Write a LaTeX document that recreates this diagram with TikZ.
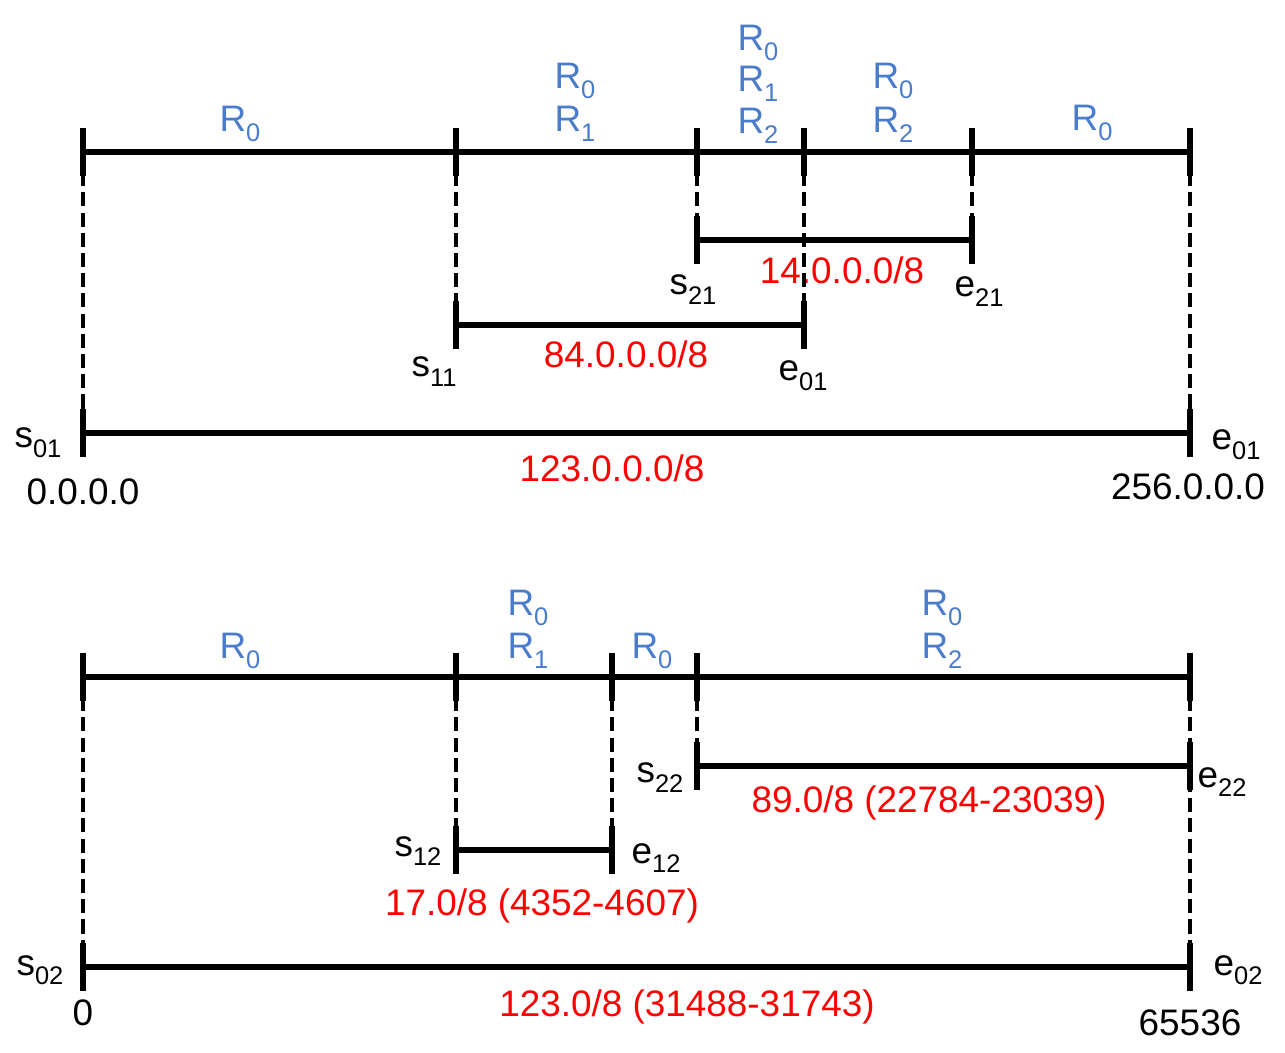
\documentclass[tikz,border=0pt]{standalone}
\usepackage{fontspec}
\setmainfont{Liberation Sans}
\definecolor{rblue}{RGB}{74,124,204}
\definecolor{rred}{RGB}{255,0,0}
\newcommand{\sbx}[1]{\raisebox{-5.5pt}{\fontsize{14.5}{14.5}\selectfont #1}}
\begin{document}
\begin{tikzpicture}[x=0.02cm,y=-0.02cm,
  seg/.style={line width=3.1pt},
  tickline/.style={line width=3.8pt},
  dashline/.style={line width=2.8pt, dash pattern=on 8pt off 3.5pt},
  lbl/.style={font=\fontsize{21}{24}\selectfont, inner sep=0pt, anchor=base},
  rlab/.style={lbl, text=rblue},
  redlab/.style={lbl, text=rred},
  tk/.pic={\draw[tickline] (0,-24) -- (0,24);}
]
\path[use as bounding box] (0,0) rectangle (1285,1053);

% ---- top diagram coordinates
\coordinate (A0) at (83,152);
\coordinate (A1) at (456,152);
\coordinate (A2) at (697,152);
\coordinate (A3) at (804,152);
\coordinate (A4) at (972,152);
\coordinate (A5) at (1190,152);
\coordinate (B1) at (697,240);
\coordinate (B2) at (972,240);
\coordinate (C1) at (456,325);
\coordinate (C2) at (804,325);
\coordinate (D1) at (83,433);
\coordinate (D2) at (1190,433);
% ---- bottom diagram coordinates
\coordinate (E0) at (83,677);
\coordinate (E1) at (456,677);
\coordinate (E2) at (612,677);
\coordinate (E3) at (697,677);
\coordinate (E4) at (1190,677);
\coordinate (F1) at (697,766);
\coordinate (F2) at (1190,766);
\coordinate (G1) at (456,850);
\coordinate (G2) at (612,850);
\coordinate (H1) at (83,967);
\coordinate (H2) at (1190,967);

% red label crossed by dashed line
\node[redlab] (n14) at (842,284) {14.0.0.0/8};

% dashed projection lines
\foreach \a/\b in {A0/D1, A1/C1, A2/B1, A3/C2, A4/B2, A5/D2, E0/H1, E1/G1, E2/G2, E3/F1, E4/H2}
  \draw[dashline] (\a) -- (\b);

% solid ranges
\foreach \a/\b in {A0/A5, B1/B2, C1/C2, D1/D2, E0/E4, F1/F2, G1/G2, H1/H2}
  \draw[seg] (\a) -- (\b);

% ticks
\foreach \p in {A0,A1,A2,A3,A4,A5,B1,B2,C1,C2,D1,D2,E0,E1,E2,E3,E4,F1,F2,G1,G2,H1,H2}
  \pic at (\p) {tk};

% ---- top blue labels
\node[rlab] (ta) at (240,132) {R\sbx{0}};
\node[rlab] (tb0) at (575,89) {R\sbx{0}};
\node[rlab] (tb1) at (575,132) {R\sbx{1}};
\node[rlab] (tc0) at (758,51) {R\sbx{0}};
\node[rlab] (tc1) at (758,92) {R\sbx{1}};
\node[rlab] (tc2) at (758,134) {R\sbx{2}};
\node[rlab] (td0) at (893,89) {R\sbx{0}};
\node[rlab] (td2) at (893,133) {R\sbx{2}};
\node[rlab] (te) at (1092,131) {R\sbx{0}};

% ---- top black/red labels
\node[lbl] (s21) at (693,295) {s\sbx{21}};
\node[lbl] (e21) at (979,297) {e\sbx{21}};
\node[lbl] (s11) at (434,377) {s\sbx{11}};
\node[redlab] (n84) at (626,368) {84.0.0.0/8};
\node[lbl] (e01m) at (803,381) {e\sbx{01}};
\node[lbl] (s01) at (38,448) {s\sbx{01}};
\node[lbl] (e01) at (1236,450) {e\sbx{01}};
\node[redlab] (n123) at (612,482) {123.0.0.0/8};
\node[lbl] (ip0) at (83,505) {0.0.0.0};
\node[lbl] (ip256) at (1188,500) {256.0.0.0};

% ---- bottom blue labels
\node[rlab] (ba) at (240,659) {R\sbx{0}};
\node[rlab] (bb0) at (528,616) {R\sbx{0}};
\node[rlab] (bb1) at (528,659) {R\sbx{1}};
\node[rlab] (bc) at (652,659) {R\sbx{0}};
\node[rlab] (bd0) at (942,616) {R\sbx{0}};
\node[rlab] (bd2) at (942,659) {R\sbx{2}};

% ---- bottom black/red labels
\node[lbl] (s22) at (660,783) {s\sbx{22}};
\node[lbl] (e22) at (1222,787) {e\sbx{22}};
\node[redlab] (n89) at (929,812) {89.0/8 (22784-23039)};
\node[lbl] (s12) at (418,856) {s\sbx{12}};
\node[lbl] (e12) at (656,863) {e\sbx{12}};
\node[redlab] (n17) at (542,915) {17.0/8 (4352-4607)};
\node[lbl] (s02) at (40,975) {s\sbx{02}};
\node[lbl] (e02) at (1238,975) {e\sbx{02}};
\node[lbl] (z0) at (83,1025) {0};
\node[redlab] (n123b) at (687,1016) {123.0/8 (31488-31743)};
\node[lbl] (z65) at (1190,1035) {65536};
\end{tikzpicture}
\end{document}
